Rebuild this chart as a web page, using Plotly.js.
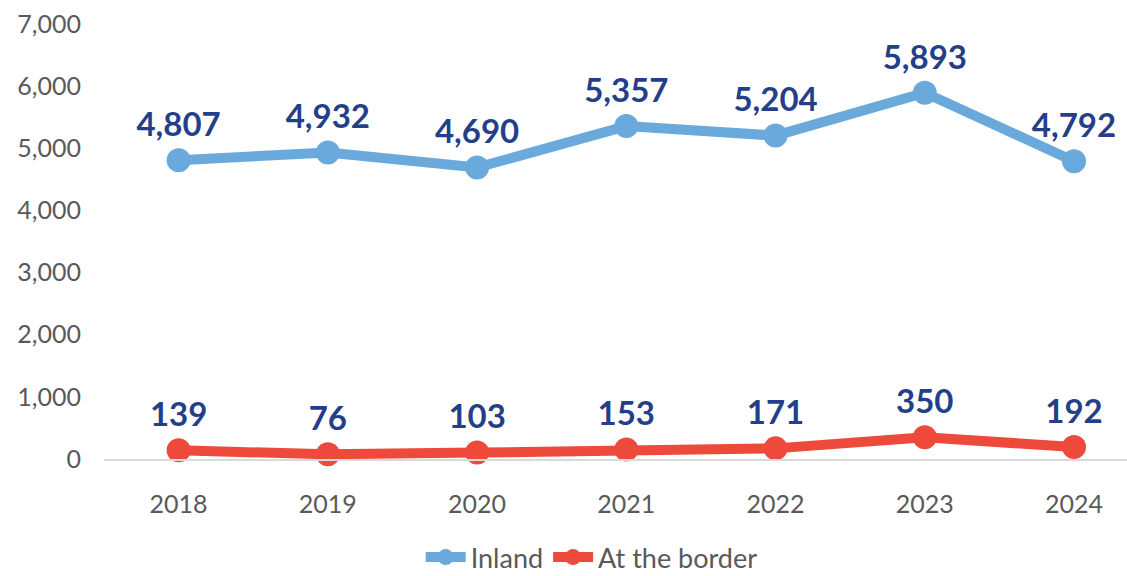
<!DOCTYPE html>
<html>
<head>
<meta charset="utf-8">
<script src="https://cdn.plot.ly/plotly-3.0.1.min.js"></script>
<style>html,body{margin:0;padding:0;background:#fff;}#chart{width:1127px;height:576px;}</style>
</head>
<body>
<div id="chart"></div>
<script>
const years = ["2018", "2019", "2020", "2021", "2022", "2023", "2024"];
const inland = [4807, 4932, 4690, 5357, 5204, 5893, 4792];
const border = [139, 76, 103, 153, 171, 350, 192];
const yTicks = [0, 1000, 2000, 3000, 4000, 5000, 6000, 7000];
const yTickLabels = ["0", "1,000", "2,000", "3,000", "4,000", "5,000", "6,000", "7,000"];

const fmt = v => v.toLocaleString('en-US');
const labelFont = {family: 'Lato, sans-serif', size: 33, color: '#243F8A', weight: 'bold'};

const traces = [
  {
    x: years, y: inland, name: 'Inland', type: 'scatter', mode: 'lines+markers+text',
    line: {color: '#6AA9DB', width: 10},
    marker: {color: '#6AA9DB', size: 24},
    text: inland.map(fmt), textposition: 'top center',
    textfont: labelFont, cliponaxis: false, hoverinfo: 'skip'
  },
  {
    x: years, y: border, name: 'At the border', type: 'scatter', mode: 'lines+markers+text',
    line: {color: '#EE4A3B', width: 10},
    marker: {color: '#EE4A3B', size: 24},
    text: border.map(fmt), textposition: 'top center',
    textfont: labelFont, cliponaxis: false, hoverinfo: 'skip'
  }
];

const layout = {
  width: 1127, height: 576,
  margin: {l: 104, r: 0, t: 24, b: 117, autoexpand: false},
  paper_bgcolor: '#fff', plot_bgcolor: '#fff',
  font: {family: 'Lato, sans-serif', color: '#595959'},
  showlegend: true,
  legend: {
    orientation: 'h', x: 0.525, xref: 'container', xanchor: 'center',
    y: 0.032, yref: 'container', yanchor: 'middle',
    font: {size: 27, color: '#595959'}, itemwidth: 40, tracegroupgap: 0
  },
  xaxis: {
    type: 'category', range: [-0.5, 6.355],
    showgrid: false, zeroline: false,
    showline: true, linecolor: '#D9D9D9', linewidth: 2,
    ticks: '', tickfont: {size: 25, color: '#595959'}, ticklabelstandoff: 22
  },
  yaxis: {
    range: [0, 7000], tickvals: yTicks, ticktext: yTickLabels,
    showgrid: false, zeroline: false, showline: false,
    ticks: '', tickfont: {size: 25, color: '#595959'}, ticklabelstandoff: 22
  }
};

Plotly.newPlot('chart', traces, layout, {staticPlot: true, displayModeBar: false});
</script>
</body>
</html>
